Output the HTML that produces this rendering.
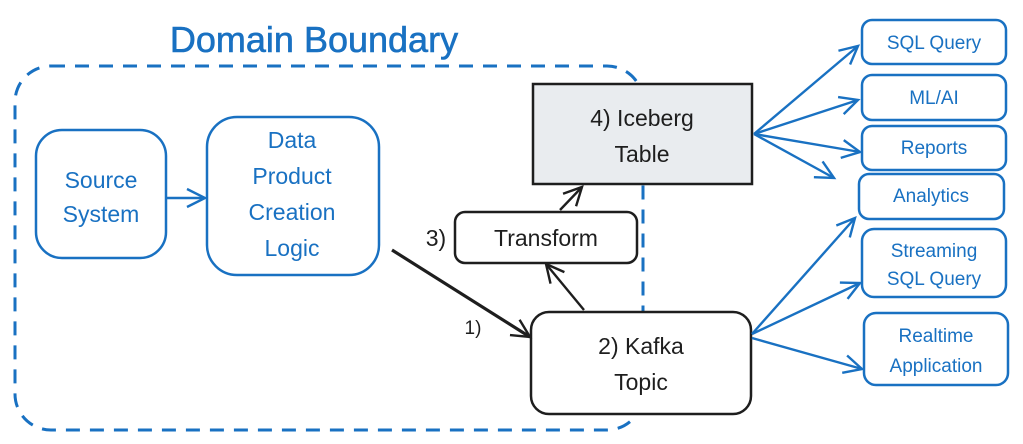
<!DOCTYPE html>
<html><head><meta charset="utf-8"><style>
html,body{margin:0;padding:0;background:#fff;}
svg{display:block;}
text{font-family:"Liberation Sans",sans-serif;}
</style></head><body>
<svg width="1023" height="444" viewBox="0 0 1023 444" xmlns="http://www.w3.org/2000/svg">
<defs>
<marker id="ab" markerWidth="24" markerHeight="24" refX="20" refY="12" orient="auto" markerUnits="userSpaceOnUse"><path d="M2,3 L20,12 L2,21" fill="none" stroke="#1971c2" stroke-width="2.4"/></marker>
<marker id="ak" markerWidth="24" markerHeight="24" refX="20" refY="12" orient="auto" markerUnits="userSpaceOnUse"><path d="M2,3 L20,12 L2,21" fill="none" stroke="#1e1e1e" stroke-width="2.4"/></marker>
</defs>
<text x="314" y="52" font-size="36" fill="#1971c2" text-anchor="middle" stroke="#1971c2" stroke-width="0.6">Domain Boundary</text>
<rect x="15" y="66" width="628" height="364" rx="36" fill="none" stroke="#1971c2" stroke-width="3" stroke-dasharray="14 10"/>
<g fill="#fff" stroke="#1971c2" stroke-width="2.5">
<rect x="36" y="130" width="130" height="128" rx="26"/>
<rect x="207" y="117" width="172" height="158" rx="30"/>
<rect x="862" y="20" width="144" height="44" rx="10"/>
<rect x="862" y="75" width="144" height="45" rx="10"/>
<rect x="862" y="126" width="144" height="44" rx="10"/>
<rect x="859" y="174" width="145" height="45" rx="10"/>
<rect x="862" y="229" width="144" height="68" rx="12"/>
<rect x="864" y="313" width="144" height="72" rx="12"/>
</g>
<rect x="533" y="84" width="219" height="100" fill="#e9ecef" stroke="#1e1e1e" stroke-width="2.5"/>
<rect x="455" y="212" width="182" height="51" rx="10" fill="#fff" stroke="#1e1e1e" stroke-width="2.5"/>
<rect x="531" y="312" width="220" height="102" rx="18" fill="#fff" stroke="#1e1e1e" stroke-width="2.5"/>
<g fill="#1971c2" font-size="23" text-anchor="middle">
<text x="101" y="188">Source</text><text x="101" y="222">System</text>
<text x="292" y="148">Data</text><text x="292" y="184">Product</text><text x="292" y="220">Creation</text><text x="292" y="256">Logic</text>
</g>
<g fill="#1971c2" font-size="19" text-anchor="middle">
<text x="934" y="49">SQL Query</text>
<text x="934" y="104">ML/AI</text>
<text x="934" y="154">Reports</text>
<text x="931" y="202">Analytics</text>
<text x="934" y="257">Streaming</text><text x="934" y="285">SQL Query</text>
<text x="936" y="342">Realtime</text><text x="936" y="372">Application</text>
</g>
<g fill="#1e1e1e" font-size="23" text-anchor="middle">
<text x="642" y="126">4) Iceberg</text><text x="642" y="162">Table</text>
<text x="546" y="246">Transform</text>
<text x="641" y="354">2) Kafka</text><text x="641" y="390">Topic</text>
<text x="436" y="246">3)</text>
<text x="473" y="334" font-size="19">1)</text>
</g>
<g stroke="#1971c2" stroke-width="2.4" fill="none" marker-end="url(#ab)">
<line x1="166" y1="198" x2="205" y2="198"/>
<line x1="754" y1="134" x2="858" y2="46"/>
<line x1="754" y1="134" x2="858" y2="100"/>
<line x1="754" y1="134" x2="860" y2="152"/>
<line x1="754" y1="134" x2="834" y2="178"/>
<line x1="752" y1="334" x2="855" y2="218"/>
<line x1="752" y1="334" x2="860" y2="283"/>
<line x1="752" y1="338" x2="862" y2="369"/>
</g>
<g stroke="#1e1e1e" stroke-width="2.4" fill="none" marker-end="url(#ak)">
<line x1="392" y1="250" x2="530" y2="337" stroke-width="3.2"/>
<line x1="584" y1="310" x2="546" y2="264"/>
<line x1="560" y1="210" x2="582" y2="187"/>
</g>
</svg>
</body></html>
